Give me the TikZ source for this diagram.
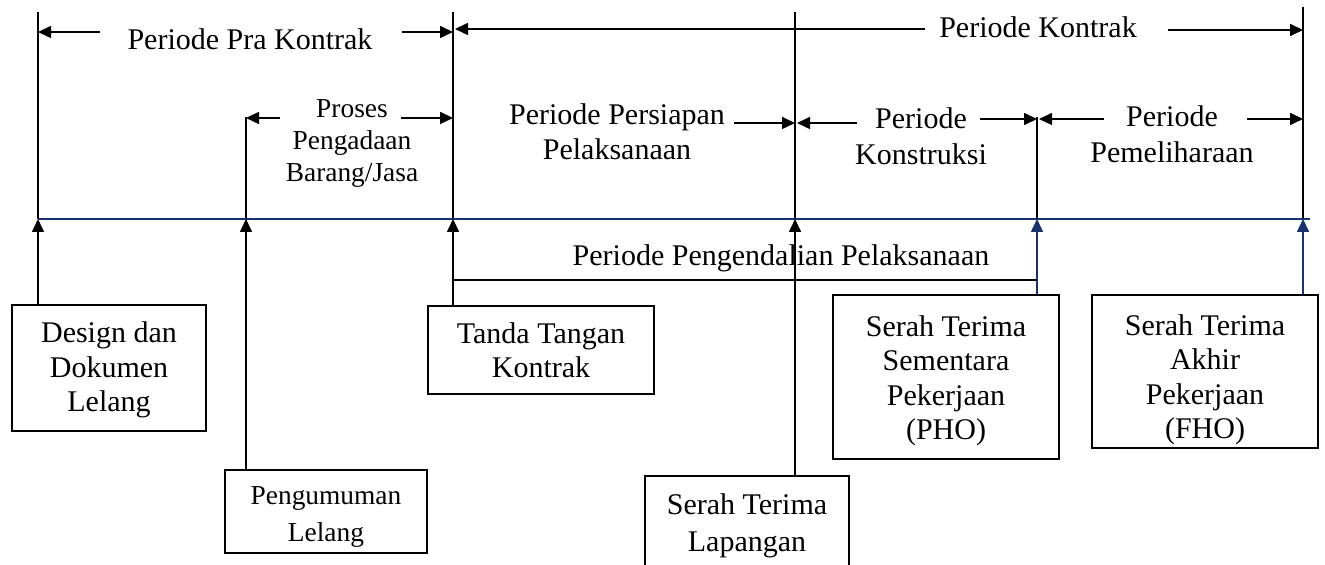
\documentclass[tikz,border=0pt]{standalone}
\usepackage{fontspec}
\setmainfont{Liberation Serif}
\usetikzlibrary{arrows.meta}
\definecolor{navy}{RGB}{23,50,110}
\begin{document}
\begin{tikzpicture}[x=0.5pt,y=-0.5pt,
  every node/.style={inner sep=0pt},
  big/.style={font=\fontsize{15}{17.25}\selectfont},
  small/.style={font=\fontsize{13.7}{16}\selectfont},
  ln/.style={line width=0.8pt},
  tip/.style={ln, -{Triangle[length=6.5pt,width=6pt]}},
  box/.style={draw, ln},
  boxtext/.style={big, align=center}
]
\useasboundingbox (0,0) rectangle (1325,565);

% timeline points
\coordinate (t1) at (38,219);
\coordinate (t2) at (246,219);
\coordinate (t3) at (453,219);
\coordinate (t4) at (795,219);
\coordinate (t5) at (1037,219);
\coordinate (t6) at (1303,219);
\coordinate (tend) at (1310,219);

% tops of vertical lines
\coordinate (v1) at (38,12);
\coordinate (v2) at (246,117);
\coordinate (v3) at (453,12);
\coordinate (v4) at (795,12);
\coordinate (v5) at (1037,117);
\coordinate (v6) at (1303,7);

\draw[ln] (v1) -- (t1);
\draw[ln] (v2) -- (t2);
\draw[ln] (v3) -- (t3);
\draw[ln] (v4) -- (t4);
\draw[ln] (v5) -- (t5);
\draw[ln] (v6) -- (t6);

\draw[navy, ln] (t1) -- (tend);

% top-row labels
\node[big] (prak) at (250,39) {Periode Pra Kontrak};
\node[big] (kontrak) at (1038,27) {Periode Kontrak};
\node[small, align=center] (proses) at (352,143.5) {Proses\\Pengadaan\\Barang/Jasa};
\node[align=center, font=\fontsize{15}{17.5}\selectfont] (persiapan) at (617,132) {Periode Persiapan\\Pelaksanaan};
\node[align=center, font=\fontsize{15}{18}\selectfont] (konstruksi) at (921,136) {Periode\\Konstruksi};
\node[align=center, font=\fontsize{15}{18}\selectfont] (pemeliharaan) at (1172,134) {Periode\\Pemeliharaan};
\node[big] (pengendalian) at (781,258) {Periode Pengendalian Pelaksanaan};

% dimension arrows
\coordinate (a1) at (100,32);   \draw[tip] (a1) -- (v1 |- a1);
\coordinate (a2) at (402,32);   \draw[tip] (a2) -- (v3 |- a2);
\coordinate (a3) at (925,29);   \draw[tip] (a3) -- ([xshift=1pt]v3 |- a3);
\coordinate (a4) at (1168,30);  \draw[tip] (a4) -- (v6 |- a4);
\coordinate (a5) at (280,118);  \draw[tip] (a5) -- (v2 |- a5);
\coordinate (a6) at (401,118);  \draw[tip] (a6) -- (v3 |- a6);
\coordinate (a7) at (734,123);  \draw[tip] (a7) -- (v4 |- a7);
\coordinate (a8) at (857,123);  \draw[tip] (a8) -- ([xshift=1pt]v4 |- a8);
\coordinate (a9) at (980,119);  \draw[tip] (a9) -- (v5 |- a9);
\coordinate (a10) at (1104,119); \draw[tip] (a10) -- ([xshift=1pt]v5 |- a10);
\coordinate (a11) at (1247,119); \draw[tip] (a11) -- (v6 |- a11);

% boxes
\node[box, minimum width=97pt, minimum height=63pt] (design) at (109,368) {};
\node[boxtext] (designt) at (109,370) {Design dan\\Dokumen\\Lelang};

\node[box, minimum width=101pt, minimum height=41.5pt] (pengumuman) at (326,511.5) {};
\node[align=center, font=\fontsize{13.7}{18.5}\selectfont] (pengumumant) at (326,517) {Pengumuman\\Lelang};

\node[box, minimum width=113pt, minimum height=44pt] (tanda) at (541,350) {};
\node[boxtext] (tandat) at (541,350) {Tanda Tangan\\Kontrak};

\node[box, minimum width=102pt, minimum height=50pt] (lapangan) at (747,526) {};
\node[align=center, font=\fontsize{15}{18.5}\selectfont] (lapangant) at (747,526) {Serah Terima\\Lapangan};

\node[box, minimum width=113pt, minimum height=82pt] (pho) at (946,377) {};
\node[boxtext] (phot) at (946,381) {Serah Terima\\Sementara\\Pekerjaan\\(PHO)};

\node[box, minimum width=113pt, minimum height=76.5pt] (fho) at (1205,371.5) {};
\begin{scope}
  \clip (fho.south west) rectangle (fho.north east);
  \node[boxtext] (fhot) at (1205,380) {Serah Terima\\Akhir\\Pekerjaan\\(FHO)};
\end{scope}

% connectors from boxes to timeline
\draw[tip] (design.north -| t1) -- (t1);
\draw[tip] (pengumuman.north -| t2) -- (t2);
\draw[tip] (tanda.north -| t3) -- (t3);
\draw[tip] (lapangan.north -| t4) -- (t4);
\draw[tip, navy] (pho.north -| t5) -- (t5);
\draw[tip, navy] (fho.north -| t6) -- (t6);

% control period bracket
\coordinate (b1) at (453,280);
\draw[ln] (b1) -- (t5 |- b1);
\end{tikzpicture}
\end{document}
